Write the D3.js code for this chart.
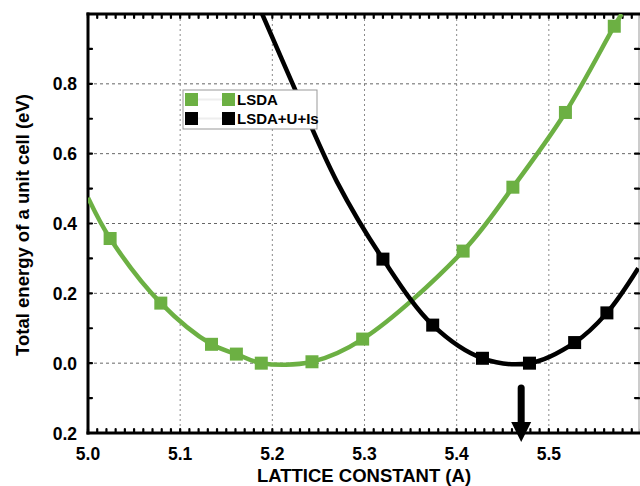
<!DOCTYPE html>
<html>
<head>
<meta charset="utf-8">
<script src="https://cdn.jsdelivr.net/npm/d3@7"></script>
<style>
  html, body { margin: 0; padding: 0; background: #fff; }
  svg { display: block; }
  text { font-family: "Liberation Sans", Arial, Helvetica, sans-serif; font-weight: bold; }
</style>
</head>
<body>
<script>
// ---- data ----
const lsdaX = [5.024, 5.079, 5.134, 5.161, 5.188, 5.243, 5.298, 5.407, 5.461, 5.518, 5.571];
const lsdaE = [0.357, 0.172, 0.054, 0.026, 0.000, 0.004, 0.069, 0.321, 0.504, 0.718, 0.965];
// fitted-curve ends (read where the curve leaves the frame)
const lsdaCurveStart = [[5.000, 0.474]];
const lsdaCurveEnd = [[5.579, 1.000]];

const ldauX = [5.320, 5.374, 5.428, 5.479, 5.528, 5.563];
const ldauE = [0.298, 0.109, 0.014, 0.000, 0.059, 0.144];
const ldauCurveStart = [[5.189, 1.000], [5.222, 0.800], [5.270, 0.520]];
const ldauCurveEnd = [[5.597, 0.272]];

const xTicks = [5.0, 5.1, 5.2, 5.3, 5.4, 5.5];
const xTickLabels = ["5.0", "5.1", "5.2", "5.3", "5.4", "5.5"];
const yTicks = [-0.2, 0.0, 0.2, 0.4, 0.6, 0.8];
const yTickLabels = ["0.2", "0.0", "0.2", "0.4", "0.6", "0.8"];
const seriesNames = ["LSDA", "LSDA+U+Is"];
const arrowX = 5.47;

// ---- layout ----
const W = 640, H = 486;
const L = 88, T = 14, R = 641, B = 433;
const green = "#6cb043";

const svg = d3.select("body").append("svg").attr("width", W).attr("height", H);
const x = d3.scaleLinear().domain([5.0, 5.6]).range([L, R]);
const y = d3.scaleLinear().domain([-0.2, 1.0]).range([B, T]);

svg.append("defs").append("clipPath").attr("id", "clip")
  .append("rect").attr("x", L).attr("y", T).attr("width", 639 - L).attr("height", B - T);

// grid
const grid = svg.append("g");
grid.selectAll("line.vg").data(xTicks.filter(d => d > 5.0)).join("line")
  .attr("x1", d => x(d)).attr("x2", d => x(d)).attr("y1", T).attr("y2", B)
  .attr("stroke", "#8a8a8a").attr("stroke-width", 1).attr("stroke-dasharray", "2,3");
grid.selectAll("line.hg").data(yTicks.filter(d => d > -0.2)).join("line")
  .attr("x1", L).attr("x2", 639).attr("y1", d => y(d)).attr("y2", d => y(d))
  .attr("stroke", "#666").attr("stroke-width", 1).attr("stroke-dasharray", "3,3");

// frame
svg.append("line").attr("x1", 639).attr("x2", 639).attr("y1", T).attr("y2", B)
  .attr("stroke", "#999").attr("stroke-width", 1);

// minor ticks
const tk = svg.append("g").attr("stroke", "#000").attr("stroke-width", 2.2).attr("stroke-linecap", "round");
const xMinor = d3.range(0, 61).map(i => 5.0 + i * 0.01);
tk.selectAll("line.bt").data(xMinor).join("line")
  .attr("x1", d => x(d)).attr("x2", d => x(d)).attr("y1", B).attr("y2", B - 4);
tk.selectAll("line.tt").data(xMinor).join("line")
  .attr("x1", d => x(d)).attr("x2", d => x(d)).attr("y1", T).attr("y2", T + 4);
const yMinor = d3.range(0, 13).map(i => -0.2 + i * 0.1);
tk.selectAll("line.lt").data(yMinor).join("line")
  .attr("x1", L).attr("x2", L + 4).attr("y1", d => y(d)).attr("y2", d => y(d));
tk.selectAll("line.rt").data(yMinor).join("line")
  .attr("x1", 639).attr("x2", 635).attr("y1", d => y(d)).attr("y2", d => y(d));

// axes lines
svg.append("line").attr("x1", L).attr("x2", L).attr("y1", T - 1.5).attr("y2", B + 1.5)
  .attr("stroke", "#000").attr("stroke-width", 3);
svg.append("line").attr("x1", L - 1.5).attr("x2", W).attr("y1", B).attr("y2", B)
  .attr("stroke", "#000").attr("stroke-width", 3);
svg.append("line").attr("x1", L - 1.5).attr("x2", W).attr("y1", T).attr("y2", T)
  .attr("stroke", "#000").attr("stroke-width", 3);

// curves
const line = d3.line().x(d => x(d[0])).y(d => y(d[1])).curve(d3.curveCatmullRom.alpha(0.5));
const lsdaPts = lsdaX.map((v, i) => [v, lsdaE[i]]);
const ldauPts = ldauX.map((v, i) => [v, ldauE[i]]);
const plot = svg.append("g").attr("clip-path", "url(#clip)");
plot.append("path").datum(lsdaCurveStart.concat(lsdaPts, lsdaCurveEnd))
  .attr("d", line).attr("fill", "none").attr("stroke", green).attr("stroke-width", 4.5);
plot.append("path").datum(ldauCurveStart.concat(ldauPts, ldauCurveEnd))
  .attr("d", line).attr("fill", "none").attr("stroke", "#000").attr("stroke-width", 4.5);

// markers
const ms = 13;
plot.selectAll("rect.g").data(lsdaPts).join("rect")
  .attr("x", d => x(d[0]) - ms / 2).attr("y", d => y(d[1]) - ms / 2)
  .attr("width", ms).attr("height", ms).attr("fill", green);
plot.selectAll("rect.b").data(ldauPts).join("rect")
  .attr("x", d => x(d[0]) - ms / 2).attr("y", d => y(d[1]) - ms / 2)
  .attr("width", ms).attr("height", ms).attr("fill", "#000");

// tick labels
svg.selectAll("text.xl").data(xTicks).join("text")
  .attr("x", d => x(d)).attr("y", 460).attr("text-anchor", "middle")
  .attr("font-size", 17.5).text((d, i) => xTickLabels[i]);
svg.selectAll("text.yl").data(yTicks).join("text")
  .attr("x", 77).attr("y", d => y(d) + 6.5).attr("text-anchor", "end")
  .attr("font-size", 17.5).text((d, i) => yTickLabels[i]);

// axis titles
svg.append("text").attr("x", 364).attr("y", 482).attr("text-anchor", "middle")
  .attr("font-size", 18.5).text("LATTICE CONSTANT (A)");
svg.append("text").attr("transform", "translate(29,225) rotate(-90)")
  .attr("text-anchor", "middle").attr("font-size", 18.5)
  .text("Total energy of a unit cell (eV)");

// legend
const lg = svg.append("g");
lg.append("rect").attr("x", 183).attr("y", 90).attr("width", 134).attr("height", 39)
  .attr("fill", "#fff").attr("stroke", "#999").attr("stroke-width", 1);
const lcol = [green, "#000"];
seriesNames.forEach((name, i) => {
  const cy = 99.5 + i * 19;
  lg.append("line").attr("x1", 192).attr("x2", 228).attr("y1", cy).attr("y2", cy)
    .attr("stroke", "#eee").attr("stroke-width", 2);
  lg.append("rect").attr("x", 185).attr("y", cy - 6.5).attr("width", 13).attr("height", 13).attr("fill", lcol[i]);
  lg.append("rect").attr("x", 222).attr("y", cy - 6.5).attr("width", 13).attr("height", 13).attr("fill", lcol[i]);
  lg.append("text").attr("x", 237).attr("y", cy + 5.5).attr("font-size", 15).text(name);
});

// arrow marking the LSDA+U+Is minimum
const ax = x(arrowX);
svg.append("line").attr("x1", ax).attr("x2", ax).attr("y1", 388).attr("y2", 424)
  .attr("stroke", "#000").attr("stroke-width", 7).attr("stroke-linecap", "round");
svg.append("path")
  .attr("d", `M${ax - 10},422 L${ax + 10},422 L${ax},442 Z`).attr("fill", "#000");
</script>
</body>
</html>
